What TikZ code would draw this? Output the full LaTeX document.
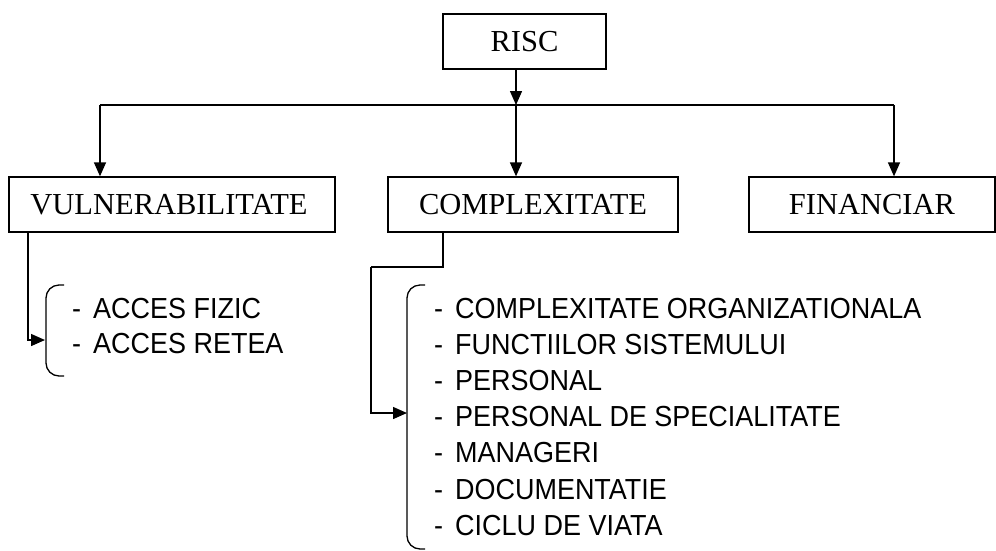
\documentclass[tikz,border=0pt]{standalone}
\usepackage{fontspec}
\setmainfont{Liberation Serif}
\newfontfamily\listfont[FakeStretch=0.93]{Liberation Sans}
\usetikzlibrary{arrows.meta}

\tikzset{
  box/.style={draw, line width=1.3pt, inner sep=0pt, font=\fontsize{30.5}{32}\selectfont},
  link/.style={line width=1.4pt},
  arr/.style={link, -{Triangle[length=14pt,width=12pt]}},
  brace/.style={line width=1.3pt, rounded corners=13pt},
  item/.style={anchor=base west, inner sep=0pt, font=\listfont\fontsize{29}{30}\selectfont}
}

\begin{document}
\begin{tikzpicture}[x=1pt, y=-1pt]
  \useasboundingbox (0,0) rectangle (996,550);

  % top box and the three categories
  \node[box, minimum width=163pt, minimum height=55pt] (risc) at (524.5,41.5) {RISC};
  \node[box, minimum width=326pt, minimum height=55pt] (vul) at (172,204.5) {\kern-6pt VULNERABILITATE};
  \node[box, minimum width=290pt, minimum height=55pt] (cpx) at (533,204.5) {COMPLEXITATE};
  \node[box, minimum width=246pt, minimum height=55pt] (fin) at (872,204.5) {FINANCIAR};

  % distribution bar
  \coordinate (barL) at (100,105);
  \coordinate (barM) at (516,105);
  \coordinate (barR) at (894,105);
  \draw[arr] (risc.south -| barM) -- (barM);
  \draw[link] (barL) -- (barR);
  \draw[arr] (barL) -- (vul.north -| barL);
  \draw[arr] (barM) -- (cpx.north -| barM);
  \draw[arr] (barR) -- (fin.north -| barR);

  % vulnerability items
  \draw[brace] (64,285) -- (46,285) -- (46,376) -- (64,376);
  \coordinate (vb) at (45,340);
  \coordinate (vx) at (28,232);
  \draw[arr] (vx) |- (vb);
  \node[item] (v1) at (72,318.5) {-\kern12pt ACCES FIZIC};
  \node[item] (v2) at (72,353.5) {-\kern12pt ACCES RETEA};

  % complexity items
  \draw[brace] (425,285) -- (407,285) -- (407,549) -- (425,549);
  \coordinate (cx) at (443,231);
  \coordinate (c1) at (443,267);
  \coordinate (c2) at (371,267);
  \coordinate (cb) at (407,413);
  \draw[link] (cx) -- (c1) -- (c2);
  \draw[arr] (c2) |- (cb);
  \foreach \t [count=\i from 0] in {COMPLEXITATE ORGANIZATIONALA, FUNCTIILOR SISTEMULUI, PERSONAL, PERSONAL DE SPECIALITATE, MANAGERI, DOCUMENTATIE, CICLU DE VIATA}
    \node[item] (ci\i) at (434,318.5+36.1*\i) {-\kern12pt \t};
\end{tikzpicture}
\end{document}
